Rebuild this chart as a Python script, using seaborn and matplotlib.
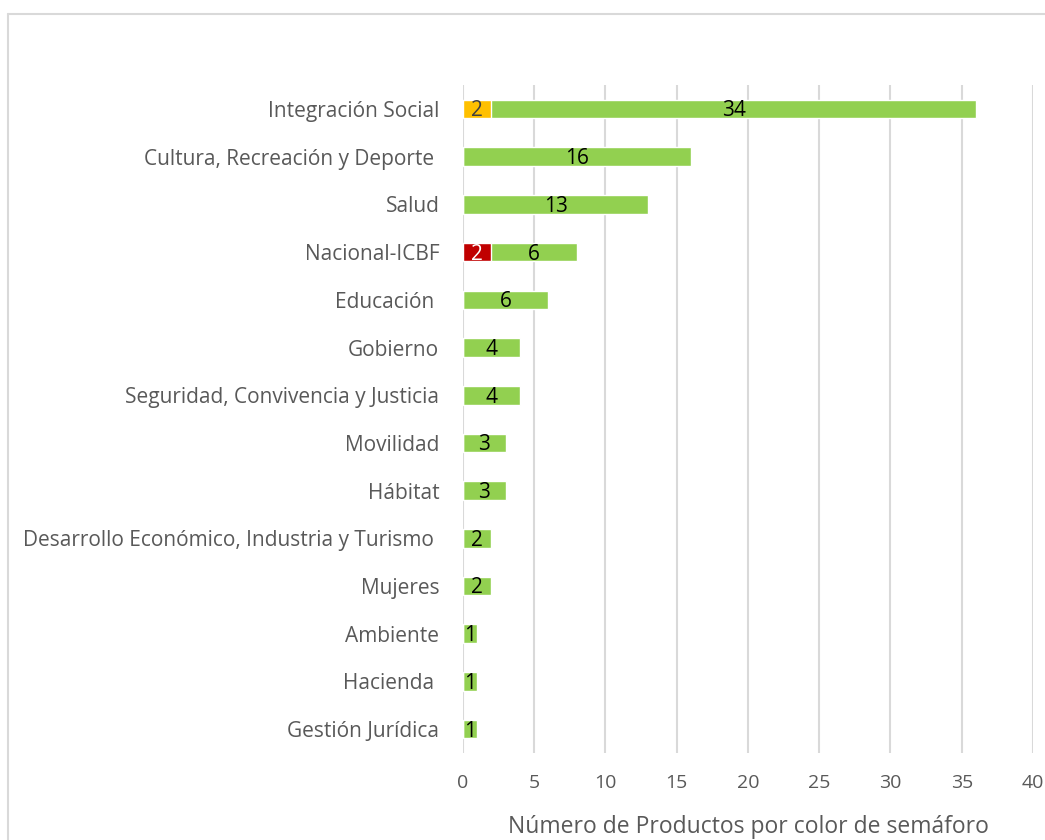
import matplotlib
matplotlib.use("Agg")
import matplotlib.pyplot as plt
import seaborn as sns
import pandas as pd
import numpy as np
from matplotlib.lines import Line2D

categories = ["Integración Social", "Cultura, Recreación y Deporte ", "Salud", "Nacional-ICBF",
              "Educación ", "Gobierno", "Seguridad, Convivencia y Justicia", "Movilidad",
              "Hábitat", "Desarrollo Económico, Industria y Turismo ", "Mujeres", "Ambiente",
              "Hacienda ", "Gestión Jurídica"]
red_vals = [0, 0, 0, 2, 0, 0, 0, 0, 0, 0, 0, 0, 0, 0]
yellow_vals = [2, 0, 0, 0, 0, 0, 0, 0, 0, 0, 0, 0, 0, 0]
green_vals = [34, 16, 13, 6, 6, 4, 4, 3, 3, 2, 2, 1, 1, 1]
x_ticks = [0, 5, 10, 15, 20, 25, 30, 35, 40]

sns.set_theme(style="white")
plt.rcParams['font.family'] = ['Open Sans', 'DejaVu Sans']

fig = plt.figure(figsize=(10.45, 8.4), dpi=100)
ax = fig.add_axes([0.443, 0.1036, 0.5455, 0.795])

df = pd.DataFrame({"cat": categories, "red": red_vals, "yellow": yellow_vals, "green": green_vals})
df["ry"] = df["red"] + df["yellow"]
df["total"] = df["ry"] + df["green"]

bar_h = 0.39
sns.barplot(data=df, y="cat", x="total", color="#92D050", width=bar_h, ax=ax,
            saturation=1, orient="h", zorder=2)
sns.barplot(data=df, y="cat", x="yellow", color="#FFC000", width=bar_h, ax=ax,
            saturation=1, orient="h", zorder=3)
for i, v in enumerate(red_vals):
    if v > 0:
        ax.barh(i, v, height=bar_h, color="#C00000", zorder=4)

lab_fs = 15
for i in range(len(categories)):
    r, y, g = red_vals[i], yellow_vals[i], green_vals[i]
    start = r + y
    yy = i + 0.04
    if r > 0:
        ax.text(r / 2, yy, str(r), ha="center", va="center", color="white", fontsize=lab_fs, zorder=5)
    if y > 0:
        ax.text(y / 2, yy, str(y), ha="center", va="center", color="#404040", fontsize=lab_fs, zorder=5)
    if g > 0:
        ax.text(start + g / 2, yy, str(g), ha="center", va="center", color="black", fontsize=lab_fs, zorder=5)

ax.set_xlim(0, 40)
ax.set_ylim(13.5, -0.5)
ax.set_xticks(x_ticks)
ax.set_xticklabels([str(t) for t in x_ticks], color="#595959", fontsize=14)
ax.tick_params(axis="y", labelsize=15, labelcolor="#595959", length=0, pad=17)
ax.tick_params(axis="x", length=0, pad=15)
ax.set_ylabel("")
ax.set_xlabel("Número de Productos por color de semáforo", color="#595959", fontsize=16.5, labelpad=17)
ax.xaxis.grid(True, color="#D9D9D9", linewidth=1.5, zorder=0)
ax.yaxis.grid(False)
ax.set_axisbelow(True)
for s in ax.spines.values():
    s.set_visible(False)

fig.add_artist(Line2D([8 / 1045, 8 / 1045], [0, 1 - 14 / 840], color="#D9D9D9", linewidth=1.5, transform=fig.transFigure))
fig.add_artist(Line2D([8 / 1045, 1], [1 - 14 / 840, 1 - 14 / 840], color="#D9D9D9", linewidth=1.5, transform=fig.transFigure))

fig.savefig("out.png", dpi=100)
